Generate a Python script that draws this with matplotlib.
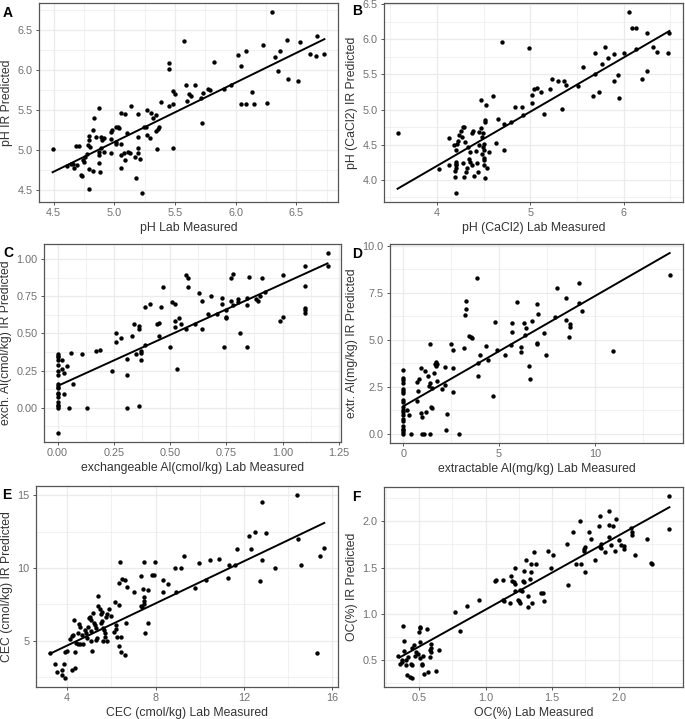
import matplotlib
matplotlib.use("Agg")
import matplotlib.pyplot as plt
from matplotlib.ticker import AutoMinorLocator

plt.rcParams['font.family'] = ['Liberation Sans', 'DejaVu Sans']

# ---------------- data ----------------
A_points = [(4.49,5.01),(4.61,4.80),(4.64,4.82),(4.66,4.82),(4.68,5.05),(4.71,5.05),(4.67,4.77),(4.69,4.81),(4.72,4.69),(4.73,4.67),(4.74,4.87),(4.75,4.85),(4.76,4.91),(4.77,4.95),(4.78,5.06),(4.79,5.18),(4.79,5.13),(4.80,5.04),(4.79,4.76),(4.79,4.51),(4.82,5.25),(4.82,4.73),(4.83,5.40),(4.85,5.16),(4.87,5.53),(4.87,4.83),(4.87,4.94),(4.87,4.98),(4.88,4.72),(4.89,5.16),(4.89,5.03),(4.90,5.13),(4.91,4.97),(4.91,5.15),(4.97,5.23),(4.98,5.25),(4.97,4.96),(4.97,5.14),(5.01,5.08),(5.01,5.29),(5.03,5.29),(5.04,5.28),(5.01,5.10),(5.05,4.77),(5.05,5.07),(5.05,4.93),(5.05,5.46),(5.08,4.96),(5.09,5.45),(5.09,4.87),(5.10,5.21),(5.11,4.98),(5.13,4.96),(5.14,5.55),(5.17,4.91),(5.18,4.65),(5.19,5.03),(5.19,4.96),(5.19,5.45),(5.19,5.16),(5.21,4.88),(5.23,4.46),(5.24,5.29),(5.26,5.29),(5.27,5.50),(5.27,5.19),(5.29,5.15),(5.30,5.46),(5.32,5.40),(5.34,5.44),(5.34,5.24),(5.35,5.01),(5.36,5.26),(5.37,5.29),(5.38,5.60),(5.45,6.09),(5.45,6.02),(5.45,5.55),(5.48,5.02),(5.48,5.74),(5.50,5.70),(5.48,5.57),(5.57,6.37),(5.59,5.81),(5.61,5.70),(5.60,5.61),(5.63,5.68),(5.66,5.81),(5.71,5.65),(5.72,5.34),(5.73,5.72),(5.77,5.76),(5.79,5.75),(5.82,6.10),(5.90,5.77),(5.96,5.81),(6.02,6.19),(6.04,6.05),(6.04,5.58),(6.08,6.24),(6.08,5.58),(6.13,5.73),(6.15,5.57),(6.22,6.32),(6.26,5.59),(6.30,6.73),(6.32,6.16),(6.35,5.99),(6.36,6.24),(6.42,6.38),(6.43,5.89),(6.51,5.86),(6.53,6.35),(6.61,6.20),(6.66,6.18),(6.67,6.43),(6.73,6.20)]
A_line_x = [4.49, 6.73]
A_line_y = [4.72, 6.39]

B_points = [(3.58,4.67),(4.02,4.15),(4.13,4.59),(4.13,4.21),(4.18,4.50),(4.19,4.04),(4.19,4.12),(4.20,4.16),(4.20,4.25),(4.20,4.23),(4.21,4.21),(4.20,3.81),(4.21,4.42),(4.22,4.51),(4.23,4.55),(4.24,4.63),(4.26,4.70),(4.28,4.75),(4.29,4.75),(4.27,4.61),(4.28,4.24),(4.29,4.04),(4.30,4.54),(4.31,4.11),(4.32,4.16),(4.33,4.47),(4.34,4.29),(4.35,4.40),(4.36,4.25),(4.38,4.21),(4.38,4.66),(4.39,4.70),(4.40,4.05),(4.42,4.41),(4.43,4.24),(4.44,4.11),(4.45,4.68),(4.47,4.73),(4.45,4.49),(4.47,5.13),(4.48,4.61),(4.49,4.66),(4.48,4.36),(4.49,4.47),(4.50,4.42),(4.51,4.51),(4.50,4.31),(4.51,4.28),(4.51,4.21),(4.52,4.85),(4.52,4.82),(4.52,4.03),(4.53,5.06),(4.54,4.16),(4.56,4.40),(4.60,5.19),(4.63,4.52),(4.65,4.87),(4.70,5.96),(4.72,4.80),(4.72,4.42),(4.79,4.82),(4.84,5.04),(4.91,5.04),(4.92,4.92),(4.99,5.88),(5.02,5.10),(5.02,5.21),(5.04,5.29),(5.07,5.30),(5.11,5.25),(5.15,4.93),(5.21,5.29),(5.23,5.43),(5.30,5.40),(5.34,5.01),(5.36,5.41),(5.38,5.35),(5.51,5.34),(5.57,5.61),(5.67,5.19),(5.69,5.50),(5.69,5.80),(5.74,5.25),(5.77,5.65),(5.80,5.89),(5.83,5.74),(5.90,5.79),(5.90,5.40),(5.94,5.49),(5.95,5.16),(6.00,5.81),(6.06,6.39),(6.09,6.16),(6.13,6.16),(6.13,5.87),(6.20,5.43),(6.25,5.55),(6.25,6.09),(6.31,5.89),(6.36,5.82),(6.48,5.81),(6.49,6.09)]
B_line_x = [3.58, 6.49]
B_line_y = [3.87, 6.12]

C_points = [(0.0,0.36),(0.0,0.35),(0.0,0.34),(0.0,0.32),(0.0,0.29),(0.0,0.25),(0.0,0.22),(0.0,0.16),(0.0,0.14),(0.0,0.13),(0.0,0.10),(0.0,0.09),(0.0,0.07),(0.0,0.04),(0.0,0.02),(0.0,0.01),(0.0,0.00),(0.0,-0.17),(0.02,0.32),(0.02,0.26),(0.03,0.23),(0.03,0.09),(0.04,0.28),(0.05,0.00),(0.06,0.37),(0.07,0.16),(0.11,0.36),(0.13,0.00),(0.17,0.38),(0.19,0.39),(0.24,0.25),(0.26,0.50),(0.26,0.44),(0.28,0.47),(0.31,0.00),(0.31,0.22),(0.31,0.33),(0.33,0.48),(0.34,0.56),(0.35,0.36),(0.36,0.55),(0.36,0.53),(0.36,0.01),(0.37,0.38),(0.37,0.37),(0.37,0.32),(0.39,0.68),(0.39,0.42),(0.41,0.70),(0.44,0.56),(0.45,0.57),(0.45,0.48),(0.46,0.68),(0.47,0.81),(0.50,0.41),(0.51,0.71),(0.52,0.70),(0.52,0.58),(0.52,0.54),(0.53,0.26),(0.54,0.60),(0.55,0.56),(0.57,0.53),(0.57,0.89),(0.58,0.87),(0.58,0.81),(0.61,0.56),(0.63,0.77),(0.64,0.72),(0.64,0.53),(0.67,0.63),(0.68,0.75),(0.71,0.63),(0.73,0.74),(0.73,0.70),(0.74,0.41),(0.75,0.66),(0.75,0.61),(0.75,0.60),(0.77,0.87),(0.77,0.72),(0.78,0.90),(0.78,0.69),(0.80,0.73),(0.80,0.71),(0.81,0.50),(0.84,0.69),(0.84,0.41),(0.84,0.74),(0.85,0.88),(0.88,0.73),(0.89,0.72),(0.90,0.75),(0.91,0.87),(0.92,0.78),(0.99,0.58),(1.00,0.61),(1.00,0.89),(1.10,0.95),(1.10,0.82),(1.10,0.67),(1.10,0.66),(1.10,0.64),(1.20,1.04),(1.20,0.95)]
C_line_x = [0.0, 1.20]
C_line_y = [0.146, 0.97]

D_points = [(0,3.42),(0,2.98),(0,2.85),(0,2.68),(0,2.41),(0,2.29),(0,2.15),(0,1.79),(0,1.70),(0,1.44),(0,1.26),(0,1.17),(0,0.99),(0,0.82),(0,0.67),(0,0.41),(0,0.28),(0,0.20),(0,0.11),(0,0.0),(0.17,1.29),(0.30,1.03),(0.38,0.0),(0.70,1.74),(0.73,2.77),(0.78,2.27),(0.82,2.94),(0.90,3.51),(0.90,1.13),(0.99,0.90),(0.99,0.0),(1.08,0.0),(1.13,3.33),(1.17,1.17),(1.29,3.09),(1.34,2.55),(1.39,2.73),(1.39,4.79),(1.39,0.0),(1.43,1.44),(1.48,1.38),(1.51,2.45),(1.60,3.24),(1.65,3.70),(1.69,3.62),(1.69,3.83),(1.74,3.69),(1.74,2.80),(2.03,2.41),(2.17,3.56),(2.17,2.62),(2.21,0.23),(2.26,1.08),(2.47,4.77),(2.59,4.45),(2.59,3.48),(2.59,2.20),(2.90,0.0),(3.17,4.54),(3.23,6.31),(3.29,6.63),(3.29,7.07),(3.43,5.20),(3.51,5.12),(3.60,5.11),(3.86,8.30),(3.90,3.07),(3.91,3.74),(3.98,4.18),(4.30,4.68),(4.43,3.92),(4.68,2.00),(4.77,5.96),(4.90,4.45),(5.29,4.18),(5.60,4.72),(5.65,5.43),(5.65,5.87),(5.95,7.02),(6.17,4.63),(6.17,4.36),(6.30,5.87),(6.35,5.25),(6.43,5.64),(6.56,3.60),(6.64,2.89),(6.73,5.99),(6.96,6.88),(6.96,4.84),(6.96,4.75),(7.04,6.37),(7.34,5.37),(7.43,4.18),(7.91,6.22),(8.03,7.77),(8.47,7.20),(8.47,6.05),(8.64,5.16),(8.73,5.82),(8.73,5.69),(9.17,8.00),(9.17,6.97),(9.34,6.52),(10.96,4.40),(13.91,8.44)]
D_line_x = [0.0, 13.91]
D_line_y = [1.47, 9.60]

E_points = [(3.21,4.12),(3.47,3.37),(3.52,2.86),(3.77,2.98),(3.77,2.67),(3.85,3.37),(3.88,2.44),(3.90,4.21),(3.97,4.26),(4.15,5.14),(4.20,5.35),(4.20,2.98),(4.27,5.42),(4.30,6.40),(4.35,4.21),(4.35,3.09),(4.42,4.84),(4.48,4.77),(4.53,6.12),(4.60,5.93),(4.50,5.53),(4.60,4.79),(4.70,4.79),(4.65,5.37),(4.80,5.70),(4.83,5.53),(4.88,5.19),(4.94,5.93),(4.98,6.58),(5.03,6.63),(5.06,6.40),(5.06,5.65),(5.10,5.00),(5.14,4.30),(5.18,6.88),(5.20,6.23),(5.24,6.05),(5.29,5.88),(5.32,5.07),(5.36,5.19),(5.41,8.09),(5.41,7.40),(5.48,7.16),(5.52,6.19),(5.56,6.35),(5.62,5.88),(5.56,6.98),(5.52,6.86),(5.64,5.00),(5.67,5.70),(5.71,5.53),(5.71,5.23),(5.77,6.63),(5.82,6.81),(5.82,5.00),(5.89,7.16),(5.97,6.70),(6.12,5.58),(6.17,7.63),(6.20,6.07),(6.23,5.77),(6.27,5.23),(6.35,4.60),(6.35,7.44),(6.35,8.98),(6.39,10.42),(6.42,5.26),(6.42,4.19),(6.50,9.23),(6.60,9.19),(6.62,3.98),(6.65,6.23),(6.70,8.67),(7.03,8.33),(7.33,9.42),(7.33,7.40),(7.38,7.33),(7.45,8.56),(7.48,7.98),(7.48,7.74),(7.48,7.51),(7.48,10.42),(7.52,5.49),(7.64,6.23),(7.67,8.49),(7.86,9.53),(7.94,9.49),(7.97,10.42),(8.32,9.14),(8.32,8.33),(8.55,8.86),(8.88,10.02),(9.15,10.02),(8.92,8.33),(9.30,10.84),(9.79,8.60),(9.98,10.35),(10.29,9.19),(10.48,10.53),(10.89,10.58),(11.27,9.30),(11.32,10.19),(11.58,10.19),(11.70,11.28),(12.21,12.21),(12.30,11.28),(12.52,12.44),(12.71,9.07),(12.82,14.53),(12.83,10.51),(13.00,12.40),(13.42,10.02),(14.42,15.00),(14.45,11.98),(14.58,10.19),(15.29,4.12),(15.44,10.84),(15.64,11.40)]
E_line_x = [3.21, 15.64]
E_line_y = [4.09, 13.09]

F_points = [(0.34,0.55),(0.36,0.46),(0.37,0.48),(0.37,0.50),(0.38,0.87),(0.39,0.71),(0.39,0.60),(0.40,0.45),(0.40,0.50),(0.41,0.34),(0.42,0.54),(0.43,0.32),(0.44,0.46),(0.45,0.45),(0.45,0.31),(0.45,0.63),(0.46,0.66),(0.47,0.55),(0.48,0.59),(0.49,0.57),(0.50,0.81),(0.51,0.85),(0.51,0.86),(0.51,0.70),(0.51,0.52),(0.52,0.45),(0.52,0.46),(0.53,0.55),(0.54,0.35),(0.56,0.84),(0.57,0.37),(0.58,0.61),(0.59,0.63),(0.59,0.59),(0.59,0.68),(0.58,0.54),(0.63,0.38),(0.65,0.61),(0.77,1.02),(0.81,0.82),(0.86,1.08),(0.95,1.15),(1.07,1.35),(1.08,1.37),(1.13,1.37),(1.13,1.15),(1.14,1.14),(1.18,1.12),(1.19,1.41),(1.20,1.35),(1.21,1.34),(1.22,1.32),(1.22,1.25),(1.22,1.49),(1.24,1.15),(1.25,1.14),(1.26,1.12),(1.26,1.26),(1.27,1.25),(1.28,1.36),(1.29,1.34),(1.29,1.46),(1.30,1.58),(1.32,1.19),(1.32,1.07),(1.33,1.38),(1.34,1.54),(1.34,1.45),(1.35,1.12),(1.36,1.67),(1.38,1.54),(1.42,1.23),(1.43,1.22),(1.44,1.14),(1.47,1.68),(1.49,1.49),(1.51,1.64),(1.61,1.75),(1.62,1.31),(1.66,1.88),(1.68,1.54),(1.71,2.00),(1.72,1.54),(1.74,1.68),(1.74,1.70),(1.75,1.72),(1.75,1.45),(1.78,1.88),(1.79,1.81),(1.82,1.58),(1.85,1.95),(1.86,2.05),(1.86,1.72),(1.87,1.75),(1.87,1.71),(1.90,1.67),(1.93,2.11),(1.93,1.96),(1.93,1.83),(1.94,1.74),(1.96,1.95),(1.97,1.68),(1.98,2.02),(2.00,1.80),(2.02,1.74),(2.04,1.73),(2.04,1.70),(2.09,1.93),(2.10,1.88),(2.10,1.85),(2.12,1.63),(2.21,1.81),(2.24,1.55),(2.25,1.54),(2.38,1.91),(2.38,2.27)]
F_line_x = [0.355, 2.38]
F_line_y = [0.53, 2.15]

A_xticks = [4.5, 5.0, 5.5, 6.0, 6.5]; A_xticklabels = ["4.5", "5.0", "5.5", "6.0", "6.5"]
A_yticks = [4.5, 5.0, 5.5, 6.0, 6.5]; A_yticklabels = ["4.5", "5.0", "5.5", "6.0", "6.5"]
B_xticks = [4, 5, 6]; B_xticklabels = ["4", "5", "6"]
B_yticks = [4.0, 4.5, 5.0, 5.5, 6.0, 6.5]; B_yticklabels = ["4.0", "4.5", "5.0", "5.5", "6.0", "6.5"]
C_xticks = [0.0, 0.25, 0.5, 0.75, 1.0, 1.25]; C_xticklabels = ["0.00", "0.25", "0.50", "0.75", "1.00", "1.25"]
C_yticks = [0.0, 0.25, 0.5, 0.75, 1.0]; C_yticklabels = ["0.00", "0.25", "0.50", "0.75", "1.00"]
D_xticks = [0, 5, 10]; D_xticklabels = ["0", "5", "10"]
D_yticks = [0.0, 2.5, 5.0, 7.5, 10.0]; D_yticklabels = ["0.0", "2.5", "5.0", "7.5", "10.0"]
E_xticks = [4, 8, 12, 16]; E_xticklabels = ["4", "8", "12", "16"]
E_yticks = [5, 10, 15]; E_yticklabels = ["5", "10", "15"]
F_xticks = [0.5, 1.0, 1.5, 2.0]; F_xticklabels = ["0.5", "1.0", "1.5", "2.0"]
F_yticks = [0.5, 1.0, 1.5, 2.0]; F_yticklabels = ["0.5", "1.0", "1.5", "2.0"]

panel_letters = ["A", "B", "C", "D", "E", "F"]
x_titles = ["pH Lab Measured", "pH (CaCl2) Lab Measured",
            "exchangeable Al(cmol/kg) Lab Measured", "extractable Al(mg/kg) Lab Measured",
            "CEC (cmol/kg) Lab Measured", "OC(%) Lab Measured"]
y_titles = ["pH IR Predicted", "pH (CaCl2) IR Predicted",
            "exch. Al(cmol/kg) IR Predicted", "extr. Al(mg/kg) IR Predicted",
            "CEC (cmol/kg) IR Predicted", "OC(%) IR Predicted"]

# ---------------- layout ----------------
W, H = 685, 719
fig = plt.figure(figsize=(W / 100, H / 100), dpi=100)
fig.patch.set_facecolor("white")

def rect(l, t, r, b):
    return [l / W, 1 - b / H, (r - l) / W, (b - t) / H]

boxes = [rect(39, 3, 338, 202), rect(384, 3, 683, 202),
         rect(44, 244, 341, 442), rect(390, 244, 683, 443),
         rect(36, 486, 338, 687), rect(384, 487, 683, 687)]
letter_pos = [(3, 6), (352, 4), (3, 246), (352, 247), (2, 488), (352, 490)]

panels = [
    (A_points, A_line_x, A_line_y, A_xticks, A_xticklabels, A_yticks, A_yticklabels),
    (B_points, B_line_x, B_line_y, B_xticks, B_xticklabels, B_yticks, B_yticklabels),
    (C_points, C_line_x, C_line_y, C_xticks, C_xticklabels, C_yticks, C_yticklabels),
    (D_points, D_line_x, D_line_y, D_xticks, D_xticklabels, D_yticks, D_yticklabels),
    (E_points, E_line_x, E_line_y, E_xticks, E_xticklabels, E_yticks, E_yticklabels),
    (F_points, F_line_x, F_line_y, F_xticks, F_xticklabels, F_yticks, F_yticklabels),
]

grid_col = "#EBEBEB"
for i, (pts, lx, ly, xt, xtl, yt, ytl) in enumerate(panels):
    ax = fig.add_axes(boxes[i])
    xs = [p[0] for p in pts]
    ys = [p[1] for p in pts]
    ax.scatter(xs, ys, s=10, color="black", linewidths=0, zorder=3)
    ax.plot(lx, ly, color="black", lw=1.4, zorder=4)
    ax.margins(0.05)
    ax.set_xticks(xt)
    ax.set_xticklabels(xtl)
    ax.set_yticks(yt)
    ax.set_yticklabels(ytl)
    ax.xaxis.set_minor_locator(AutoMinorLocator(2))
    ax.yaxis.set_minor_locator(AutoMinorLocator(2))
    ax.grid(True, which="major", color=grid_col, lw=0.9, zorder=0)
    ax.grid(True, which="minor", color=grid_col, lw=0.5, zorder=0)
    ax.set_axisbelow(True)
    ax.tick_params(which="major", length=2.5, width=0.7, color="#555555",
                   labelsize=7.8, labelcolor="#707070", pad=2)
    ax.tick_params(which="minor", length=0)
    for sp in ax.spines.values():
        sp.set_color("#555555")
        sp.set_linewidth(0.9)
    ax.set_xlabel(x_titles[i], fontsize=8.8, color="#333333", labelpad=3)
    ax.set_ylabel(y_titles[i], fontsize=8.8, color="#333333", labelpad=3)
    fig.text(letter_pos[i][0] / W, 1 - letter_pos[i][1] / H, panel_letters[i],
             fontsize=10, fontweight="bold", ha="left", va="top")

fig.savefig("out.png", dpi=100, facecolor="white")
